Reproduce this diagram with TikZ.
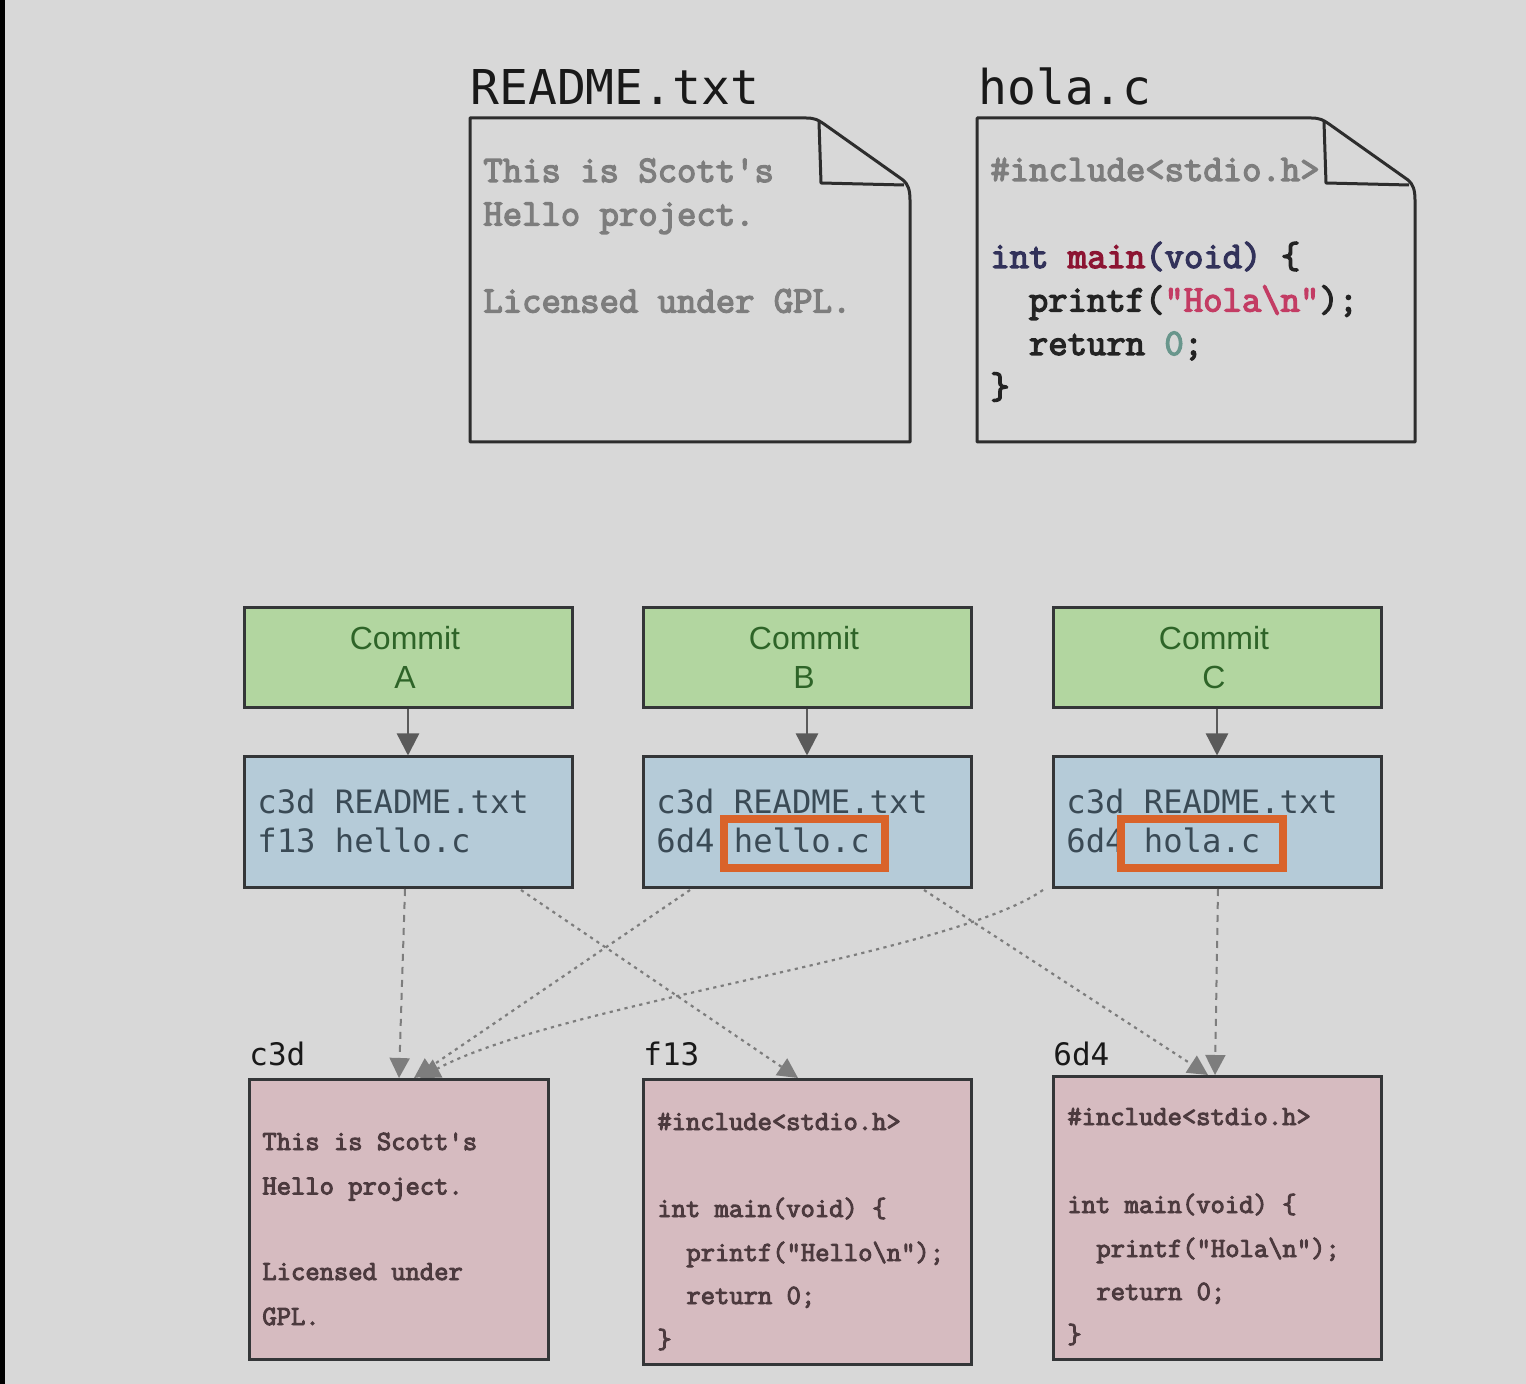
\documentclass[tikz,border=0pt]{standalone}
\usepackage{fontspec}
\usetikzlibrary{arrows.meta}
\setmainfont{Liberation Sans}
\newfontfamily\dvm{DejaVu Sans Mono}
\newfontfamily\cour[FakeBold=3.5]{Latin Modern Mono}
\definecolor{bg}{RGB}{216,216,216}
\definecolor{boxline}{RGB}{52,54,56}
\definecolor{fline}{RGB}{45,45,45}
\definecolor{cfill}{RGB}{178,214,160}
\definecolor{ctext}{RGB}{46,100,40}
\definecolor{tfill}{RGB}{181,203,216}
\definecolor{ttext}{RGB}{58,74,85}
\definecolor{bfill}{RGB}{214,187,192}
\definecolor{btext}{RGB}{76,58,62}
\definecolor{hl}{RGB}{217,99,42}
\definecolor{agray}{RGB}{90,90,90}
\definecolor{dgray}{RGB}{125,125,125}
\definecolor{fgray}{RGB}{125,125,125}
\definecolor{navy}{RGB}{50,50,90}
\definecolor{maroon}{RGB}{140,20,50}
\definecolor{pinkred}{RGB}{195,60,100}
\definecolor{tealz}{RGB}{105,150,140}
\definecolor{codeblk}{RGB}{35,35,35}
\tikzset{
 box/.style={draw=boxline, line width=1.5pt, inner sep=0pt},
 commitbox/.style={box, fill=cfill, minimum width=164pt, minimum height=50pt},
 treebox/.style={box, fill=tfill, minimum width=164pt, minimum height=65pt},
 blobbox/.style={box, fill=bfill},
 ctxt/.style={anchor=base, inner sep=0pt, text=ctext, font=\fontsize{16}{19}\selectfont},
 ttxt/.style={anchor=base west, inner sep=0pt, text=ttext, font=\dvm\fontsize{16.1}{19}\selectfont},
 ftxt/.style={anchor=base west, inner sep=0pt, font=\cour\fontsize{18.8}{22}\selectfont},
 btxt/.style={anchor=base west, inner sep=0pt, text=btext, font=\cour\fontsize{13.9}{16}\selectfont},
 titletxt/.style={anchor=base west, inner sep=0pt, text=black!90, font=\dvm\fontsize{24}{28}\selectfont},
 blabel/.style={anchor=base west, inner sep=0pt, text=black!90, font=\dvm\fontsize{15.5}{18}\selectfont},
 hlbox/.style={draw=hl, line width=4pt, inner sep=0pt},
 solidarrow/.style={draw=agray, line width=1.2pt, -{Triangle[length=11pt,width=11pt]}},
 dashline/.style={draw=dgray, line width=1pt, dash pattern=on 3.5pt off 3pt, -{Triangle[length=10pt,width=10pt]}},
 dotline/.style={draw=dgray, line width=1.1pt, dash pattern=on 1.6pt off 2.2pt, -{Triangle[length=10pt,width=10pt]}},
 fileline/.style={draw=fline, line width=1.5pt, line join=round},
}
\begin{document}
\begin{tikzpicture}[x=0.5pt,y=-0.5pt]
\useasboundingbox (0,0) rectangle (1526,1384);
\fill[bg] (0,0) rectangle (1526,1384);
\fill[black] (0,0) rectangle (5,1384);

% ---------- top files ----------
\node[titletxt] (t1) at (470,105) {README.txt};
\node[titletxt] (t2) at (978,105) {hola.c};

\draw[fileline] (470,118) -- (806,118) .. controls (815,118) and (818,120) .. (824,124)
  -- (903,180) .. controls (908,184) and (910,190) .. (910,200) -- (910,442) -- (470,442) -- cycle;
\draw[fileline] (819,122) -- (821,183) -- (904,185);

\draw[fileline] (977,118) -- (1311,118) .. controls (1320,118) and (1323,120) .. (1329,124)
  -- (1408,180) .. controls (1413,184) and (1415,190) .. (1415,200) -- (1415,442) -- (977,442) -- cycle;
\draw[fileline] (1324,122) -- (1326,183) -- (1409,185);

\node[ftxt, text=fgray] (r1) at (483,182) {This is Scott\textquotesingle s};
\node[ftxt, text=fgray] (r2) at (483,225.5) {Hello project.};
\node[ftxt, text=fgray] (r3) at (483,312.5) {Licensed under GPL.};

\node[ftxt, text=fgray] (h1) at (990,181) {\#include<stdio.h>};
\node[ftxt] (h2) at (990,268) {\textcolor{navy}{int} \textcolor{maroon}{main}\textcolor{navy}{(void)} \textcolor{codeblk}{\{}};
\node[ftxt] (h3) at (1028.5,311.5) {\textcolor{codeblk}{printf(}\textcolor{pinkred}{\textquotedbl Hola\textbackslash n\textquotedbl}\textcolor{codeblk}{);}};
\node[ftxt] (h4) at (1028.5,355) {\textcolor{codeblk}{return} \textcolor{tealz}{0}\textcolor{codeblk}{;}};
\node[ftxt, text=codeblk] (h5) at (990,398.5) {\}};

% ---------- commits ----------
\node[commitbox] (cA) at (408,658) {};
\node[commitbox] (cB) at (807,658) {};
\node[commitbox] (cC) at (1217,658) {};
\node[ctxt] (cA1) at (405,650) {Commit};
\node[ctxt] (cA2) at (405,689) {A};
\node[ctxt] (cB1) at (804,650) {Commit};
\node[ctxt] (cB2) at (804,689) {B};
\node[ctxt] (cC1) at (1214,650) {Commit};
\node[ctxt] (cC2) at (1214,689) {C};

% ---------- trees ----------
\node[treebox] (tA) at (408,822) {};
\node[treebox] (tB) at (807,822) {};
\node[treebox] (tC) at (1217,822) {};
\node[ttxt] (tA1) at (257,813) {c3d README.txt};
\node[ttxt] (tA2) at (257,852) {f13 hello.c};
\node[ttxt] (tB1) at (656,813) {c3d README.txt};
\node[ttxt] (tB2) at (656,852) {6d4 hello.c};
\node[ttxt] (tC1) at (1066,813) {c3d README.txt};
\node[ttxt] (tC2) at (1066,852) {6d4 hola.c};
\node[hlbox, minimum width=80.5pt, minimum height=24.5pt] (hB) at (804.5,843.5) {};
\node[hlbox, minimum width=81pt, minimum height=24.5pt] (hC) at (1202,843.5) {};

\draw[solidarrow] (cA) -- (tA);
\draw[solidarrow] (cB) -- (tB);
\draw[solidarrow] (cC) -- (tC);

% ---------- blobs ----------
\node[blobbox, minimum width=149.5pt, minimum height=140pt] (bc3d) at (398.5,1219) {};
\node[blobbox, minimum width=164pt, minimum height=142.5pt] (bf13) at (807,1221.5) {};
\node[blobbox, minimum width=164pt, minimum height=141.5pt] (b6d4) at (1217,1217.5) {};
\node[blabel] (lc3d) at (249,1065) {c3d};
\node[blabel] (lf13) at (643,1065) {f13};
\node[blabel] (l6d4) at (1053,1065) {6d4};

\node[btxt] (x1) at (262,1150) {This is Scott\textquotesingle s};
\node[btxt] (x2) at (262,1194.5) {Hello project.};
\node[btxt] (x3) at (262,1280) {Licensed under};
\node[btxt] (x4) at (262,1325) {GPL.};

\node[btxt] (y1) at (657,1130) {\#include<stdio.h>};
\node[btxt] (y2) at (657,1217) {int main(void) \{};
\node[btxt] (y3) at (686,1261) {printf(\textquotedbl Hello\textbackslash n\textquotedbl);};
\node[btxt] (y4) at (686,1304) {return 0;};
\node[btxt] (y5) at (657,1348) {\}};

\node[btxt] (z1) at (1067,1125) {\#include<stdio.h>};
\node[btxt] (z2) at (1067,1213) {int main(void) \{};
\node[btxt] (z3) at (1096,1257) {printf(\textquotedbl Hola\textbackslash n\textquotedbl);};
\node[btxt] (z4) at (1096,1300) {return 0;};
\node[btxt] (z5) at (1067,1343) {\}};

% ---------- tree -> blob pointers ----------
\coordinate (sA) at (405,889);
\coordinate (sAr) at (521,890);
\coordinate (sBl) at (690,890);
\coordinate (sBr) at (924,890);
\coordinate (sCl) at (1043,890);
\coordinate (sC) at (1218,889);
\coordinate (ec3dA) at (399,1078);
\coordinate (ec3dB) at (414,1078);
\coordinate (ec3dC) at (420,1078);
\coordinate (ef13) at (798,1078);
\coordinate (e6d4B) at (1208,1075);
\coordinate (e6d4C) at (1215,1075);

\draw[dashline] (sA) -- (ec3dA);
\draw[dotline] (sAr) -- (ef13);
\draw[dotline] (sBl) -- (ec3dB);
\draw[dotline] (sBr) -- (e6d4B);
\draw[dotline] (sCl) .. controls (950,955) and (560,1003) .. (ec3dC);
\draw[dashline] (sC) -- (e6d4C);
\end{tikzpicture}
\end{document}
